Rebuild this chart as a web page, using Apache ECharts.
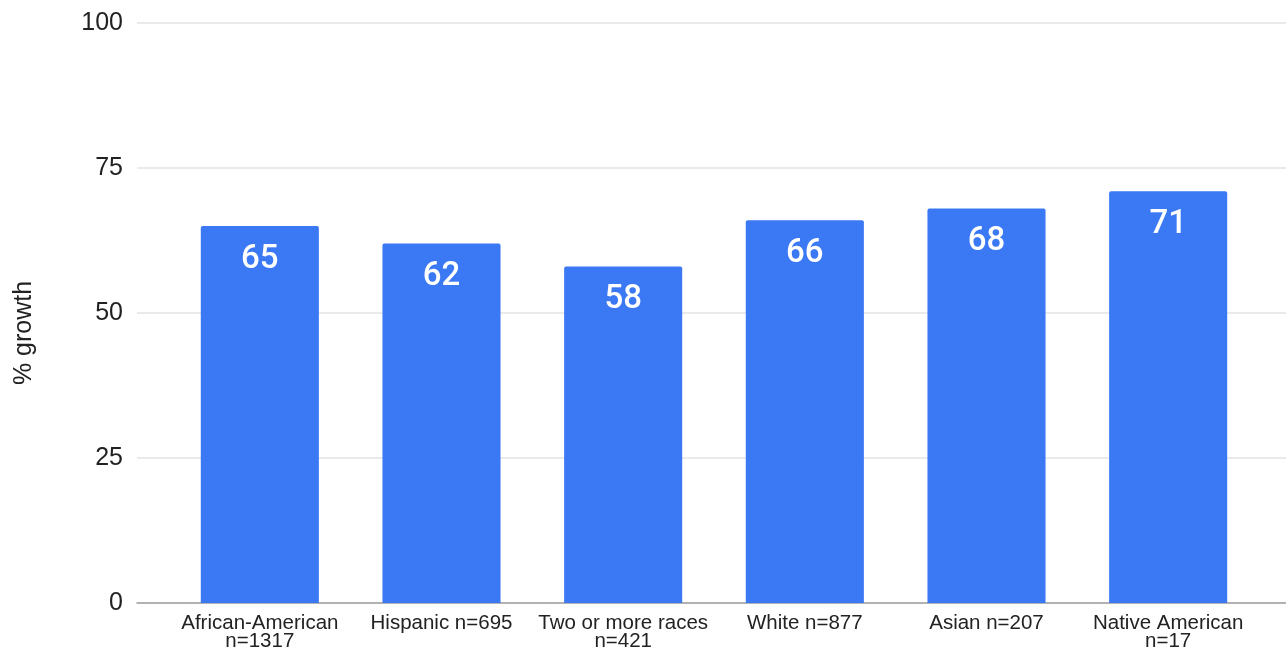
<!DOCTYPE html>
<html>
<head>
<meta charset="utf-8">
<script src="https://cdn.jsdelivr.net/npm/echarts@6/dist/echarts.min.js"></script>
<style>html,body{margin:0;padding:0;background:#fff;}#c{width:1286px;height:653px;}</style>
</head>
<body>
<div id="c"></div>
<script>
const categories = ['African-American\nn=1317', 'Hispanic n=695', 'Two or more races\nn=421', 'White n=877', 'Asian n=207', 'Native American\nn=17'];
const values = [65, 62, 58, 66, 68, 71];
const yTicks = [0, 25, 50, 75, 100];

const chart = echarts.init(document.getElementById('c'), null, {renderer: 'canvas'});
const font = 'Arial, "Liberation Sans", sans-serif';
chart.setOption({
  animation: false,
  grid: [
    {left: 137, right: 0, top: 23, bottom: 50},
    {left: 169, right: 27, top: 23, bottom: 50}
  ],
  xAxis: [
    {gridIndex: 0, type: 'category', data: categories, show: true,
     axisLine: {show: true, lineStyle: {color: '#9e9e9e', width: 1.5}},
     axisTick: {show: false}, axisLabel: {show: false}},
    {gridIndex: 1, type: 'category', data: categories,
     axisLine: {show: false}, axisTick: {show: false},
     axisLabel: {interval: 0, color: '#222', fontSize: 20.5, fontFamily: font, lineHeight: 18, margin: 11}}
  ],
  yAxis: [
    {gridIndex: 0, type: 'value', min: yTicks[0], max: yTicks[yTicks.length - 1], interval: 25,
     name: '% growth', nameLocation: 'middle', nameGap: 100, nameRotate: 90,
     nameTextStyle: {color: '#222', fontSize: 25, fontFamily: font, padding: [0, 40, 0, 0]},
     axisLine: {show: false}, axisTick: {show: false},
     axisLabel: {color: '#222', fontSize: 25, fontFamily: font, margin: 14},
     splitLine: {lineStyle: {color: '#e3e3e3', width: 1.5}}},
    {gridIndex: 1, type: 'value', min: 0, max: 100, interval: 25, show: false}
  ],
  series: [{
    type: 'bar', xAxisIndex: 1, yAxisIndex: 1, data: values,
    barWidth: '65%',
    itemStyle: {color: '#3a78f4', borderRadius: [2, 2, 0, 0]},
    label: {show: true, position: 'insideTop', distance: 17, color: '#fff', fontSize: 33, fontWeight: 500, fontFamily: 'Roboto, Arial, sans-serif'}
  }]
});
</script>
</body>
</html>
